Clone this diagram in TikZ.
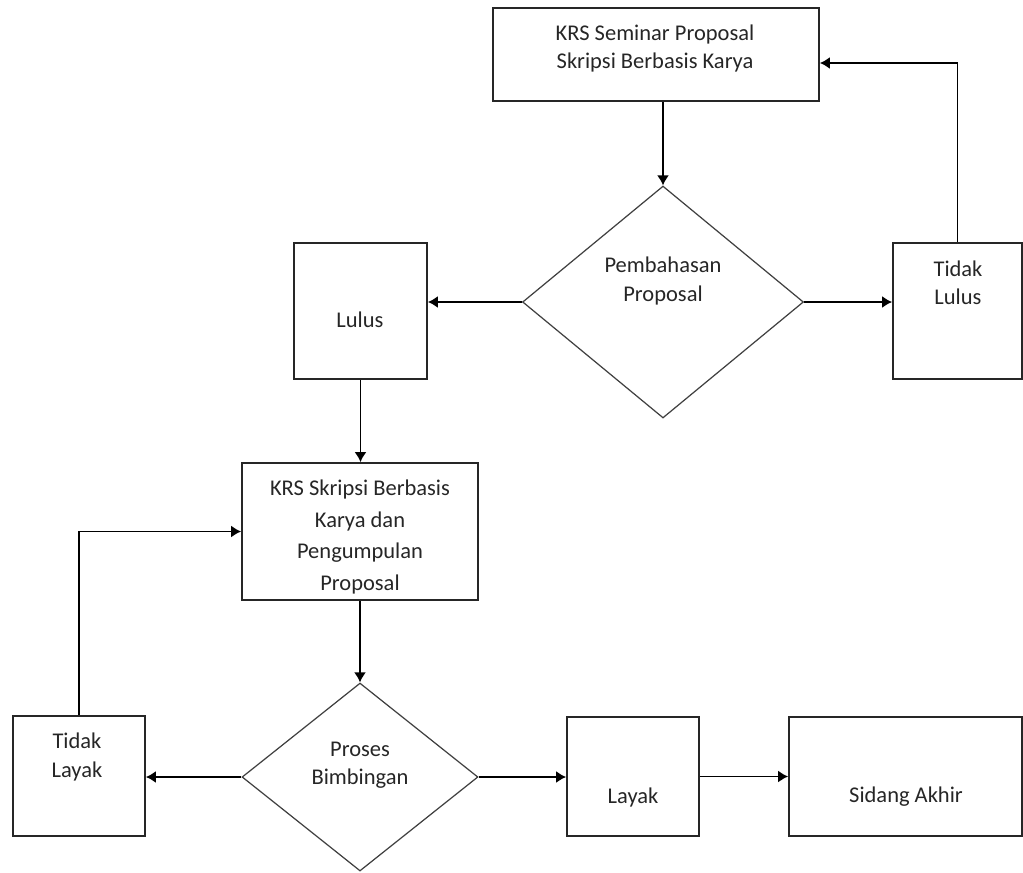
\documentclass[tikz,border=0pt]{standalone}
\usepackage{fontspec}
\setmainfont{Carlito}
\usetikzlibrary{shapes.geometric,arrows.meta}
\tikzset{
  kotak/.style={draw=black!85, line width=1pt, inner sep=0pt},
  belah/.style={shape=diamond, draw=black!75, line width=0.7pt, inner sep=0pt},
  teks/.style={align=center, text=black!85, font=\fontsize{12.8}{16}\selectfont},
  panah/.style={->, line width=1pt}
}
\begin{document}
\begin{tikzpicture}[x=0.02cm, y=-0.02cm, >={Latex[length=2mm,width=2.4mm]}]
        \useasboundingbox (0,0) rectangle (1023,872); % area gambar

        % Baris atas
        \node[kotak, minimum width=6.52cm, minimum height=1.86cm] (krsSem) at (656,54.5) {};
        \node[teks] (tKrsSem) at (655,48.5) {KRS Seminar Proposal\\Skripsi Berbasis Karya};

        \node[belah, minimum width=5.62cm, minimum height=4.64cm] (bahas) at (663,302) {};
        \node[teks] (tBahas) at (663,281) {Pembahasan\\Proposal};

        \node[kotak, minimum width=2.66cm, minimum height=2.72cm] (lulus) at (360.5,311) {};
        \node[teks] (tLulus) at (360,320) {Lulus};

        \node[kotak, minimum width=2.58cm, minimum height=2.72cm] (tidakLulus) at (957.5,311) {};
        \node[teks] (tTidakLulus) at (958,283) {Tidak\\Lulus};

        % Baris tengah
        \node[kotak, minimum width=4.72cm, minimum height=2.74cm] (krs) at (360,531.5) {};
        \node[teks, font=\fontsize{12.8}{18}\selectfont] (tKrs) at (360,537) {KRS Skripsi Berbasis\\Karya dan\\Pengumpulan\\Proposal};

        % Baris bawah
        \node[belah, minimum width=4.72cm, minimum height=3.76cm] (proses) at (360,777) {};
        \node[teks] (tProses) at (360,765) {Proses\\Bimbingan};

        \node[kotak, minimum width=2.64cm, minimum height=2.40cm] (tidakLayak) at (79,776) {};
        \node[teks] (tTidakLayak) at (77,757) {Tidak\\Layak};

        \node[kotak, minimum width=2.64cm, minimum height=2.38cm] (layak) at (633,776.5) {};
        \node[teks] (tLayak) at (633,797) {Layak};

        \node[kotak, minimum width=4.66cm, minimum height=2.38cm] (sidang) at (905.5,776.5) {};
        \node[teks] (tSidang) at (906,797) {Sidang Akhir};

        % Panah
        \draw[panah] (krsSem.south -| bahas.north) -- (bahas.north);
        \draw[panah] (bahas.west) -- (bahas.west -| lulus.east);
        \draw[panah] (bahas.east) -- (bahas.east -| tidakLulus.west);
        \draw[panah] (tidakLulus.north) |- ([yshift=-0.17cm]krsSem.east); % kembali ke KRS seminar
        \draw[panah] (lulus.south) -- (lulus.south |- krs.north);
        \draw[panah] (krs.south) -- (proses.north);
        \draw[panah] (proses.west) -- (proses.west -| tidakLayak.east);
        \draw[panah] (tidakLayak.north) |- (krs.west); % kembali ke KRS skripsi
        \draw[panah] (proses.east) -- (proses.east -| layak.west);
        \draw[panah] (layak.east) -- (layak.east -| sidang.west);
    \end{tikzpicture}
\end{document}
